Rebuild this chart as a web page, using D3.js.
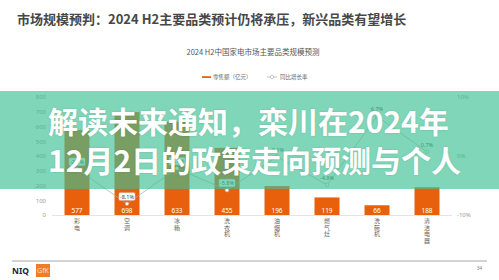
<!DOCTYPE html>
<html>
<head>
<meta charset="utf-8">
<script src="https://cdn.jsdelivr.net/npm/d3@7"></script>
<style>
  body { margin: 0; background: #fff; }
  svg { display: block; font-family: "Noto Sans CJK SC", "Noto Sans", sans-serif; }
</style>
</head>
<body>
<svg width="499" height="280"></svg>
<script>
var categories = ["彩电", "空调", "冰箱", "洗衣机", "油烟机", "燃气灶", "洗碗机", "清洁电器"];
var sales = [577, 698, 633, 455, 196, 119, 66, 188];
var growth = [-2.2, -8.1, -2.1, -5.8, -0.1, -4.9, 6.7, 0.7];
var leftTicks = [0, 100, 200, 300, 400, 500, 600, 700, 800];
var rightTicks = [-10, 0, 10];

var orange = "#e8600c";
var svg = d3.select("svg");

// titles
svg.append("text").attr("x", 17).attr("y", 23.5)
    .attr("font-size", 13).attr("font-weight", "bold").attr("fill", "#474747")
    .text("市场规模预判：2024 H2主要品类预计仍将承压，新兴品类有望增长");
svg.append("text").attr("x", 253).attr("y", 54.5).attr("text-anchor", "middle")
    .attr("font-size", 7.5).attr("fill", "#555")
    .text("2024 H2中国家电市场主要品类规模预测");

// legend
var lg = svg.append("g").attr("font-size", 5.5).attr("fill", "#666");
lg.append("rect").attr("x", 202).attr("y", 76.2).attr("width", 9).attr("height", 1.8).attr("fill", orange);
lg.append("text").attr("x", 213).attr("y", 79).text("零售额（亿元）");
lg.append("line").attr("x1", 267).attr("x2", 277).attr("y1", 77).attr("y2", 77).attr("stroke", "#aaa").attr("stroke-width", 0.7);
lg.append("circle").attr("cx", 272).attr("cy", 77).attr("r", 1.6).attr("fill", "#fff").attr("stroke", "#aaa").attr("stroke-width", 0.6);
lg.append("text").attr("x", 280).attr("y", 79).text("同比增长率");

// scales
var x = d3.scaleBand().domain(categories).range([52, 452]).paddingInner(0.5).paddingOuter(0.25);
var y = d3.scaleLinear().domain([0, 800]).range([215, 97]);
var y2 = d3.scaleLinear().domain([-10, 10]).range([215, 97]);

var axL = svg.append("g").attr("transform", "translate(47,0)")
    .call(d3.axisLeft(y).tickValues(leftTicks).tickSize(0).tickPadding(1));
axL.select(".domain").remove();
axL.selectAll("text").attr("font-size", 6).attr("fill", "#999").attr("font-family", "Noto Sans, sans-serif");

var axR = svg.append("g").attr("transform", "translate(456,0)")
    .call(d3.axisRight(y2).tickValues(rightTicks).tickSize(0).tickPadding(1).tickFormat(function (d) { return d + "%"; }));
axR.select(".domain").remove();
axR.selectAll("text").attr("font-size", 6).attr("fill", "#999").attr("font-family", "Noto Sans, sans-serif");

// baseline
svg.append("line").attr("x1", 52).attr("x2", 452).attr("y1", y(0) + 0.5).attr("y2", y(0) + 0.5)
    .attr("stroke", "#ddd").attr("stroke-width", 0.8);

// bars
svg.append("g").selectAll("rect").data(sales).join("rect")
    .attr("x", function (d, i) { return x(categories[i]); })
    .attr("y", function (d) { return y(d); })
    .attr("width", x.bandwidth())
    .attr("height", function (d) { return y(0) - y(d); })
    .attr("fill", orange);

svg.append("g").selectAll("text").data(sales).join("text")
    .attr("x", function (d, i) { return x(categories[i]) + x.bandwidth() / 2; })
    .attr("y", 212.5)
    .attr("text-anchor", "middle").attr("font-size", 6.5).attr("fill", "#fff")
    .attr("font-family", "Noto Sans, sans-serif")
    .text(function (d) { return d; });

// category labels, stacked vertically
var cat = svg.append("g").attr("font-size", 6).attr("fill", "#666");
categories.forEach(function (c, i) {
    var t = cat.append("text").attr("text-anchor", "middle");
    c.split("").forEach(function (ch, j) {
        t.append("tspan").attr("x", x(c) + x.bandwidth() / 2).attr("y", 223 + j * 6.6).text(ch);
    });
});

// growth line
var cx = function (d, i) { return x(categories[i]) + x.bandwidth() / 2; };
svg.append("path").datum(growth)
    .attr("d", d3.line().x(cx).y(function (d) { return y2(d); }))
    .attr("fill", "none").attr("stroke", "#aaa").attr("stroke-width", 0.7);
svg.append("g").selectAll("circle").data(growth).join("circle")
    .attr("cx", cx).attr("cy", function (d) { return y2(d); }).attr("r", 1.8)
    .attr("fill", "#fff").attr("stroke", "#aaa").attr("stroke-width", 0.6);

var gl = svg.append("g");
growth.forEach(function (d, i) {
    var px = cx(d, i), py = y2(d) - 7;
    var label = d.toFixed(1) + "%";
    if (y2(d) > y(sales[i])) {
        gl.append("rect").attr("x", px - 8).attr("y", py - 4).attr("width", 16).attr("height", 7.5)
            .attr("rx", 1).attr("fill", "#fff").attr("stroke", "#ccc").attr("stroke-width", 0.5);
    }
    gl.append("text").attr("x", px).attr("y", py + 2).attr("text-anchor", "middle")
        .attr("font-size", 5.5).attr("fill", "#444").attr("font-family", "Noto Sans, sans-serif")
        .text(label);
});

// overlay banner
svg.append("rect").attr("x", 0).attr("y", 91).attr("width", 499).attr("height", 98)
    .attr("fill", "rgb(60,192,146)").attr("fill-opacity", 0.65);
var bt = svg.append("g").attr("font-size", 30).attr("font-weight", "bold").attr("fill", "#fff")
    .style("text-shadow", "0 0 2px rgba(0,0,0,0.15)");
bt.append("text").attr("x", 48).attr("y", 132.5).text("解读未来通知，栾川在2024年");
bt.append("text").attr("x", 48).attr("y", 172).text("12月2日的政策走向预测与个人");

// footer
svg.append("line").attr("x1", 12).attr("x2", 487).attr("y1", 261).attr("y2", 261)
    .attr("stroke", "#c4c4c4").attr("stroke-width", 1.5);
svg.append("text").attr("x", 12).attr("y", 273.5).attr("font-size", 8.5).attr("font-weight", "bold")
    .attr("fill", "#1b1b3a").attr("font-family", "Noto Sans, sans-serif").text("NIQ");
svg.append("rect").attr("x", 36).attr("y", 264).attr("width", 14).attr("height", 13).attr("fill", "#f07d22");
svg.append("text").attr("x", 43).attr("y", 273).attr("text-anchor", "middle").attr("font-size", 7)
    .attr("fill", "#fde0c8").attr("font-family", "Noto Sans, sans-serif").text("GfK");
svg.append("text").attr("x", 477).attr("y", 270).attr("font-size", 4.5).attr("fill", "#777")
    .attr("font-family", "Noto Sans, sans-serif").text("34");
</script>
</body>
</html>
